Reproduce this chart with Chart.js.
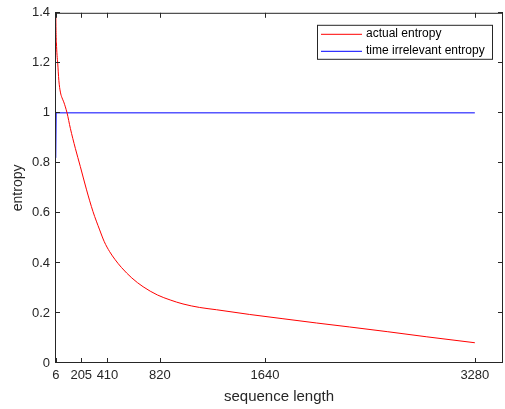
<!DOCTYPE html>
<html>
<head>
<meta charset="utf-8">
<script src="https://cdn.jsdelivr.net/npm/chart.js@4.4.1/dist/chart.umd.min.js"></script>
<style>
  html, body { margin: 0; padding: 0; background: #fff; }
</style>
</head>
<body>
<canvas id="chart" width="505" height="409"></canvas>
<script>
// values
const seqLen = [6, 8, 11, 16, 21, 30, 42, 55, 68, 94, 120, 159, 198, 245, 297, 349, 385, 427, 470, 519, 600, 688, 800, 900, 1000, 1130, 1261, 1521, 1781, 2042, 2302, 2600, 2900, 3280];
const actualEntropy = [1.40, 1.33, 1.28, 1.23, 1.20, 1.13, 1.083, 1.06, 1.044, 1.00, 0.938, 0.858, 0.785, 0.695, 0.605, 0.532, 0.485, 0.445, 0.413, 0.382, 0.340, 0.305, 0.272, 0.252, 0.236, 0.222, 0.213, 0.194, 0.177, 0.160, 0.144, 0.125, 0.105, 0.081];
const irrelevantLen = [6, 9, 3280];
const irrelevantEntropy = [0.82, 1, 1];
const xTicks = [6, 205, 410, 820, 1640, 3280];
const yTicks = [0, 0.2, 0.4, 0.6, 0.8, 1, 1.2, 1.4];

const axisColor = '#262626';
const fontFamily = 'Arial, "Liberation Sans", Helvetica, sans-serif';

const toPoints = (xs, ys) => xs.map((x, i) => ({ x: x, y: ys[i] }));

// box around the axes with inward ticks on all four sides (matlab style)
const framePlugin = {
  id: 'frame',
  afterDatasetsDraw(chart) {
    const { ctx, chartArea: a, scales: { x, y } } = chart;
    const len = 5;
    ctx.save();
    ctx.strokeStyle = axisColor;
    ctx.lineWidth = 1;
    ctx.strokeRect(a.left + 0.5, a.top + 0.5, a.right - a.left - 1, a.bottom - a.top - 1);
    ctx.beginPath();
    xTicks.forEach((v) => {
      const px = Math.round(x.getPixelForValue(v)) + 0.5;
      ctx.moveTo(px, a.bottom);
      ctx.lineTo(px, a.bottom - len);
      ctx.moveTo(px, a.top);
      ctx.lineTo(px, a.top + len);
    });
    yTicks.forEach((v) => {
      const py = Math.round(y.getPixelForValue(v)) - 0.5;
      ctx.moveTo(a.left, py);
      ctx.lineTo(a.left + len, py);
      ctx.moveTo(a.right, py);
      ctx.lineTo(a.right - len, py);
    });
    ctx.stroke();
    ctx.restore();
  },
};

// legend box in the upper right corner of the axes
const legendPlugin = {
  id: 'boxLegend',
  afterDraw(chart) {
    const { ctx, chartArea: a } = chart;
    const sets = chart.data.datasets;
    const boxW = 176, boxH = 35;
    const bx = a.right - 10 - boxW;
    const by = a.top + 12;
    ctx.save();
    ctx.fillStyle = '#fff';
    ctx.fillRect(bx, by, boxW, boxH);
    ctx.strokeStyle = axisColor;
    ctx.lineWidth = 1;
    ctx.strokeRect(bx + 0.5, by + 0.5, boxW - 1, boxH - 1);
    ctx.font = '12px ' + fontFamily;
    ctx.textBaseline = 'middle';
    ctx.fillStyle = '#000';
    sets.forEach((ds, i) => {
      const ly = by + 9 + i * 17;
      ctx.strokeStyle = ds.borderColor;
      ctx.beginPath();
      ctx.moveTo(bx + 4, ly + 0.5);
      ctx.lineTo(bx + 45, ly + 0.5);
      ctx.stroke();
      ctx.fillText(ds.label, bx + 49, ly);
    });
    ctx.restore();
  },
};

new Chart(document.getElementById('chart'), {
  type: 'line',
  data: {
    datasets: [
      {
        label: 'actual entropy',
        data: toPoints(seqLen, actualEntropy),
        borderColor: '#ff0000',
        borderWidth: 1,
        pointRadius: 0,
        cubicInterpolationMode: 'monotone',
      },
      {
        label: 'time irrelevant entropy',
        data: toPoints(irrelevantLen, irrelevantEntropy),
        borderColor: '#0000ff',
        borderWidth: 1,
        pointRadius: 0,
        tension: 0,
      },
    ],
  },
  options: {
    responsive: false,
    animation: false,
    layout: { padding: { top: 10, right: 2, left: 0, bottom: 0 } },
    plugins: {
      legend: { display: false },
      tooltip: { enabled: false },
    },
    scales: {
      x: {
        type: 'linear',
        min: 0,
        max: 3500,
        afterBuildTicks: (s) => { s.ticks = xTicks.map((v) => ({ value: v })); },
        afterFit: (s) => { s.height = 46; },
        grid: { display: false, drawTicks: false },
        border: { display: false },
        ticks: {
          autoSkip: false,
          maxRotation: 0,
          padding: 5,
          color: axisColor,
          font: { family: fontFamily, size: 13 },
          callback: (v) => String(v),
        },
        title: {
          display: true,
          text: 'sequence length',
          color: axisColor,
          font: { family: fontFamily, size: 15 },
          padding: { top: 3, bottom: 3 },
        },
      },
      y: {
        min: 0,
        max: 1.4,
        afterBuildTicks: (s) => { s.ticks = yTicks.map((v) => ({ value: v })); },
        afterFit: (s) => { s.width = 55; },
        grid: { display: false, drawTicks: false },
        border: { display: false },
        ticks: {
          padding: 5,
          color: axisColor,
          font: { family: fontFamily, size: 13 },
          callback: (v) => String(Math.round(v * 10) / 10),
        },
        title: {
          display: true,
          text: 'entropy',
          color: axisColor,
          font: { family: fontFamily, size: 14 },
          padding: { top: 10, bottom: 10 },
        },
      },
    },
  },
  plugins: [framePlugin, legendPlugin],
});
</script>
</body>
</html>
